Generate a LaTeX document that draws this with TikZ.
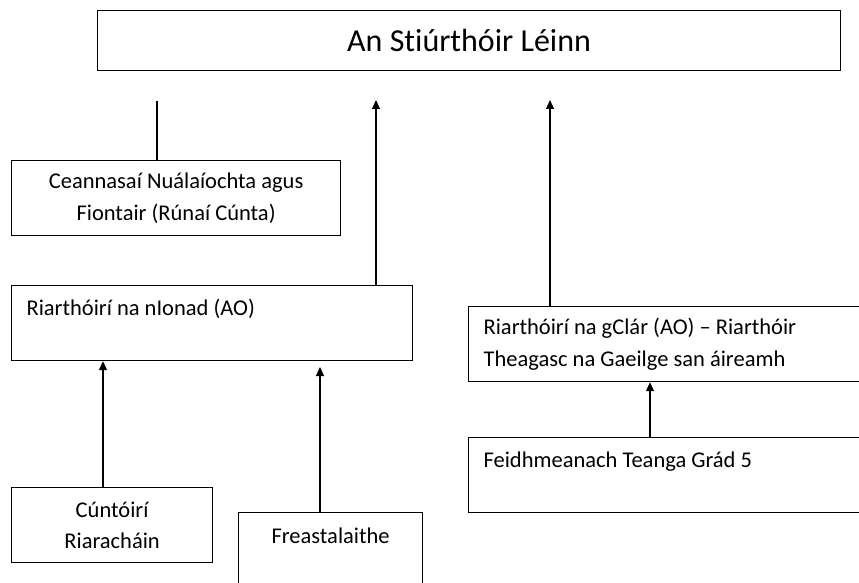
\documentclass[tikz,border=0pt]{standalone}
\usepackage{fontspec}
\setmainfont{Carlito}[Ligatures={TeX,NoCommon}]
\usetikzlibrary{arrows.meta}
\tikzset{
    box/.style={draw,line width=1.2pt,rectangle,anchor=north west,
        inner sep=0pt,minimum height=75pt,
        font=\fontsize{22.5}{31.5}\selectfont},
    leftbox/.style={box,inner xsep=15pt,align=flush left},
    arr/.style={line width=1.2pt,-{Triangle[width=8pt,length=9pt]}}
}
\begin{document}
\begin{tikzpicture}[x=1pt,y=-1pt]
        \clip (0,0) rectangle (859,583);
        %% Top box
        \node[box,minimum width=743pt,minimum height=60pt,
            font=\fontsize{32}{36}\selectfont] (dir) at (97,10)
            {An Stiúrthóir Léinn};
        %% Left column
        \node[box,minimum width=329pt,align=center] (cean) at (11,160)
            {Ceannasaí Nuálaíochta agus\\Fiontair (Rúnaí Cúnta)};
        \node[leftbox,text width=371pt] (ionad) at (11,285)
            {Riarthóirí na nIonad (AO)\\\mbox{}};
        \node[box,minimum width=201pt,align=center] (cunt) at (11,487)
            {Cúntóirí\\Riaracháin};
        \node[box,minimum width=184pt,minimum height=110pt,align=center]
            (freas) at (238,512) {Freastalaithe\\\mbox{}\\\mbox{}};
        %% Right column
        \node[leftbox,text width=390pt] (clar) at (468,306)
            {Riarthóirí na gClár (AO) -- Riarthóir\\
             Theagasc na Gaeilge san áireamh};
        \node[leftbox,text width=390pt] (feidh) at (468,437)
            {Feidhmeanach Teanga Grád 5\\\mbox{}};
        %% Connector ends
        \coordinate (c1) at (157,101);
        \coordinate (a1) at (376,100);
        \coordinate (a2) at (550,100);
        \coordinate (a3) at (103,360);
        \coordinate (a4) at (320,367);
        \coordinate (a5) at (650,381);
        %% Lines and arrows
        \draw[line width=1.2pt] (cean.north -| c1) -- (c1);
        \draw[arr] (ionad.north -| a1) -- (a1);
        \draw[arr] (clar.north -| a2) -- (a2);
        \draw[arr] (cunt.north -| a3) -- (a3 |- ionad.south);
        \draw[arr] (freas.north -| a4) -- (a4);
        \draw[arr] (feidh.north -| a5) -- (a5 |- clar.south);
    \end{tikzpicture}
\end{document}
